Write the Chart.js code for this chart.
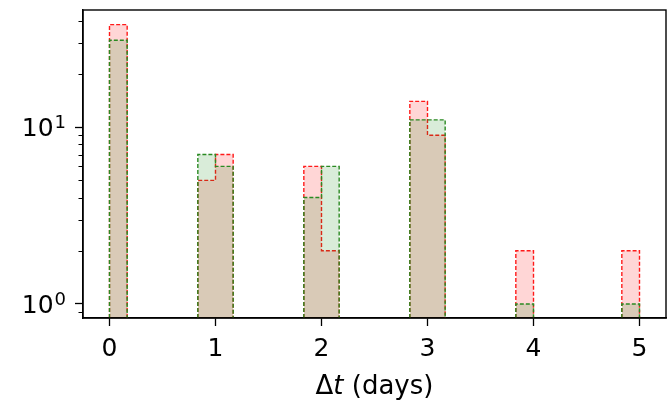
<!DOCTYPE html>
<html>
<head>
<meta charset="utf-8">
<script src="https://cdn.jsdelivr.net/npm/chart.js@4/dist/chart.umd.min.js"></script>
<style>
  html, body { margin: 0; padding: 0; background: #fff; }
  #wrap { width: 667px; height: 400px; }
</style>
</head>
<body>
<div id="wrap"><canvas id="chart" width="667" height="400"></canvas></div>
<script>
// Histogram of time differences: 30 bins of 1/6 day between 0 and 5
const BIN_START = 0;
const BIN_WIDTH = 1 / 6;
const redCounts   = [38, 0, 0, 0, 0, 5,  7, 0, 0, 0, 0, 6,  2, 0, 0, 0, 0, 14,  9, 0, 0, 0, 0, 2,  0, 0, 0, 0, 0, 2];
const greenCounts = [31, 0, 0, 0, 0, 7,  6, 0, 0, 0, 0, 4,  6, 0, 0, 0, 0, 11, 11, 0, 0, 0, 0, 1,  0, 0, 0, 0, 0, 1];

// axes
const xTicks = [0, 1, 2, 3, 4, 5];
const xTickLabels = ['0', '1', '2', '3', '4', '5'];
const yTicks = [1, 10];
const yTickExponents = ['0', '1'];
const yMinorTicks = [0.9, 2, 3, 4, 5, 6, 7, 8, 9, 20, 30, 40];
const X_MIN = -0.25, X_MAX = 5.25;
const Y_MIN = 0.833, Y_MAX = 46;

const FONT = '"DejaVu Sans"';
const FONT_SIZE = 25;

// turn bin counts into a step outline (like matplotlib histtype="stepfilled")
function stepOutline(counts) {
    const pts = [];
    let i = 0;
    while (i < counts.length) {
        if (!counts[i]) { i++; continue; }
        pts.push({ x: BIN_START + i * BIN_WIDTH, y: Y_MIN });
        while (i < counts.length && counts[i]) {
            pts.push({ x: BIN_START + i * BIN_WIDTH, y: counts[i] });
            i++;
        }
        const right = BIN_START + i * BIN_WIDTH;
        pts.push({ x: right, y: Y_MIN });
        pts.push({ x: right, y: null }); // break between runs
    }
    return pts;
}

// frame, minor log ticks, tick labels (10 with exponent) and the x title with italic t
const extras = {
    id: 'extras',
    afterDraw(chart) {
        const { ctx, chartArea: a, scales: { x, y } } = chart;
        ctx.save();
        ctx.strokeStyle = '#000';
        ctx.lineWidth = 1.4;
        ctx.strokeRect(a.left, a.top, a.right - a.left, a.bottom - a.top);

        ctx.lineWidth = 1.1;
        ctx.beginPath();
        yMinorTicks.forEach(v => {
            const py = Math.round(y.getPixelForValue(v)) + 0.5;
            ctx.moveTo(a.left - 4.5, py);
            ctx.lineTo(a.left, py);
        });
        ctx.stroke();

        ctx.fillStyle = '#000';
        ctx.textBaseline = 'alphabetic';

        // x tick labels
        ctx.font = FONT_SIZE + 'px ' + FONT;
        ctx.textAlign = 'center';
        xTicks.forEach((v, i) => {
            ctx.fillText(xTickLabels[i], x.getPixelForValue(v), 356);
        });

        // y tick labels: "10" with a raised, smaller exponent
        const supSize = Math.round(FONT_SIZE * 0.7);
        yTicks.forEach((v, i) => {
            const py = y.getPixelForValue(v);
            const base = py + 9;
            ctx.font = supSize + 'px ' + FONT;
            const wExp = ctx.measureText(yTickExponents[i]).width;
            ctx.textAlign = 'right';
            const right = a.left - 17;
            ctx.fillText(yTickExponents[i], right, base - 8);
            ctx.font = FONT_SIZE + 'px ' + FONT;
            ctx.fillText('10', right - wExp - 1, base);
        });

        // x axis title
        const titleSize = 26;
        const parts = [['\u0394', 'normal'], ['t', 'italic'], [' (days)', 'normal']];
        ctx.textAlign = 'left';
        let total = 0;
        parts.forEach(p => { ctx.font = p[1] + ' ' + titleSize + 'px ' + FONT; total += ctx.measureText(p[0]).width; });
        let px = (a.left + a.right) / 2 - total / 2;
        parts.forEach(p => {
            ctx.font = p[1] + ' ' + titleSize + 'px ' + FONT;
            ctx.fillText(p[0], px, 394);
            px += ctx.measureText(p[0]).width;
        });
        ctx.restore();
    }
};

const ctx = document.getElementById('chart').getContext('2d');
new Chart(ctx, {
    type: 'line',
    data: {
        datasets: [{
            label: 'red',
            data: stepOutline(redCounts),
            stepped: 'before',
            fill: 'start',
            backgroundColor: 'rgba(255, 0, 0, 0.16)',
            borderColor: '#ff1a1a',
            borderWidth: 1.4,
            borderDash: [4, 2],
            pointRadius: 0,
            order: 2
        }, {
            label: 'green',
            data: stepOutline(greenCounts),
            stepped: 'before',
            fill: 'start',
            backgroundColor: 'rgba(0, 128, 0, 0.15)',
            borderColor: '#2a8a22',
            borderWidth: 1.4,
            borderDash: [4, 2],
            pointRadius: 0,
            order: 1
        }]
    },
    options: {
        responsive: false,
        animation: false,
        events: [],
        layout: { padding: { top: 10, right: 1, left: 0, bottom: 0 } },
        plugins: {
            legend: { display: false },
            tooltip: { enabled: false }
        },
        scales: {
            x: {
                type: 'linear',
                min: X_MIN,
                max: X_MAX,
                afterBuildTicks: s => { s.ticks = xTicks.map(v => ({ value: v })); },
                afterFit: s => { s.height = 82; },
                ticks: { display: false },
                grid: { drawOnChartArea: false, tickLength: 8, tickColor: '#000', tickWidth: 1.3 },
                border: { color: '#000', width: 1.4 }
            },
            y: {
                type: 'logarithmic',
                min: Y_MIN,
                max: Y_MAX,
                afterBuildTicks: s => { s.ticks = yTicks.map(v => ({ value: v })); },
                afterFit: s => { s.width = 83; },
                ticks: { display: false },
                grid: { drawOnChartArea: false, tickLength: 8, tickColor: '#000', tickWidth: 1.3 },
                border: { color: '#000', width: 1.4 }
            }
        }
    },
    plugins: [extras]
});
</script>
</body>
</html>
